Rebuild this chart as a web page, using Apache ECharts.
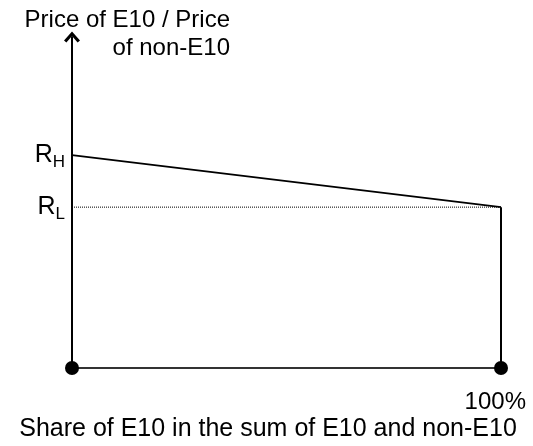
<!DOCTYPE html>
<html>
<head>
<meta charset="utf-8">
<script src="https://cdn.jsdelivr.net/npm/echarts@6/dist/echarts.min.js"></script>
<style>html,body{margin:0;padding:0;background:#fff}#c{width:533px;height:446px}</style>
</head>
<body>
<div id="c"></div>
<script>
// Data
var shareRange = [0, 1];           // share of E10 (0% .. 100%)
var ratioHigh = 0.643;             // R_H
var ratioLow = 0.486;              // R_L
var priceLine = [[0, ratioHigh], [1, ratioLow]];
var lowLine = [[0, ratioLow], [1, ratioLow]];
var rightEdge = [[1, ratioLow], [1, 0]];
var endPoints = [[0, 0], [1, 0]];
var yTickValues = [ratioLow, ratioHigh];
var yTickLabels = {};
yTickLabels[ratioLow] = '{m|R}{s|L}';
yTickLabels[ratioHigh] = '{m|R}{s|H}';
var xTickValues = [1];
var xTickLabels = ['100%'];
var yTitle = 'Price of E10 / Price\nof non-E10';
var xTitle = 'Share of E10 in the sum of E10 and non-E10';

var FONT = 'Liberation Sans, Arial, sans-serif';
var chart = echarts.init(document.getElementById('c'), null, {renderer: 'canvas'});
chart.setOption({
  animation: false,
  backgroundColor: '#fff',
  grid: {left: 72, right: 32, top: 37, bottom: 78},
  xAxis: {
    type: 'value', min: shareRange[0], max: shareRange[1],
    splitLine: {show: false},
    axisTick: {show: false},
    axisLine: {show: true, lineStyle: {color: '#333', width: 2}},
    axisLabel: {
      customValues: xTickValues,
      formatter: function (v) { return xTickLabels[xTickValues.indexOf(v)]; },
      color: '#000', fontFamily: FONT, fontSize: 24, margin: 22,
      align: 'right', padding: [0, -25, 0, 0]
    }
  },
  yAxis: {
    type: 'value', min: 0, max: 1,
    splitLine: {show: false},
    axisTick: {show: false},
    axisLine: {
      show: true,
      symbol: ['none', 'path://M8,0 L16,9 L13.6,11 L8,4.6 L2.4,11 L0,9 Z'],
      symbolSize: [16, 11],
      lineStyle: {color: '#000', width: 2}
    },
    axisLabel: {
      customValues: yTickValues,
      formatter: function (v) { return yTickLabels[v]; },
      margin: 7,
      rich: {
        m: {fontSize: 25, fontFamily: FONT, color: '#000'},
        s: {fontSize: 17, fontFamily: FONT, color: '#000', padding: [14, 0, 0, 0]}
      }
    }
  },
  graphic: [
    {type: 'text', style: {x: 230, y: 6, text: yTitle, align: 'right', fill: '#000', font: '24px ' + FONT, lineHeight: 28}},
    {type: 'text', style: {x: 268, y: 417, text: xTitle, align: 'center', fill: '#000', font: '25px ' + FONT}}
  ],
  series: [
    {type: 'line', data: priceLine, symbol: 'none', lineStyle: {color: '#000', width: 1.6}},
    {type: 'line', data: lowLine, symbol: 'none', lineStyle: {color: '#000', width: 1, type: [1, 1]}},
    {type: 'line', data: rightEdge, symbol: 'none', lineStyle: {color: '#000', width: 2}},
    {type: 'scatter', data: endPoints, symbolSize: 14, itemStyle: {color: '#000', opacity: 1}, z: 5}
  ]
});
</script>
</body>
</html>
